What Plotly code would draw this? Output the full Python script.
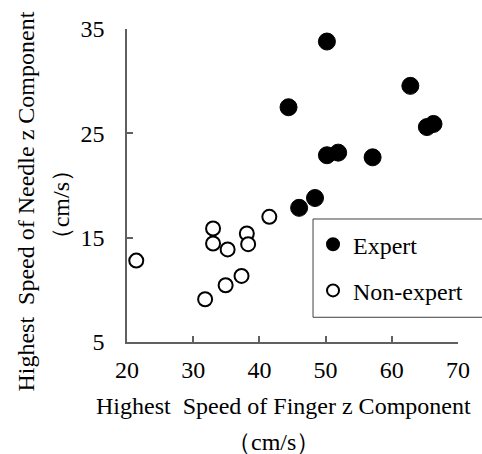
import plotly.graph_objects as go

expert_x = [50.2, 44.4, 62.8, 65.3, 66.3, 50.2, 51.9, 57.1, 46.0, 48.4]
expert_y = [33.8, 27.5, 29.55, 25.6, 25.9, 22.9, 23.15, 22.7, 17.86, 18.8]
nonexpert_x = [21.4, 31.8, 34.9, 37.3, 33.0, 33.0, 35.2, 38.1, 38.3, 41.5]
nonexpert_y = [12.8, 9.1, 10.44, 11.33, 15.88, 14.44, 13.87, 15.4, 14.38, 17.0]

x_ticks = [20, 30, 40, 50, 60, 70]
y_ticks = [5, 15, 25, 35]

FONT = "Liberation Serif"
FS = 24
AX = "#606060"

fig = go.Figure()
fig.add_trace(go.Scatter(
    x=expert_x, y=expert_y, mode="markers", name="Expert", legendgroup="a",
    marker=dict(size=17, color="black", line=dict(color="black", width=1)),
))
fig.add_trace(go.Scatter(
    x=nonexpert_x, y=nonexpert_y, mode="markers", name="Non-expert", legendgroup="b",
    marker=dict(size=14, color="white", line=dict(color="black", width=2)),
))

fig.update_layout(
    width=482, height=454,
    margin=dict(l=127, r=20, t=29, b=112),
    paper_bgcolor="white", plot_bgcolor="white",
    font=dict(family=FONT, size=FS, color="black"),
    showlegend=True,
    legend=dict(
        x=0.562, y=0.383, xanchor="left", yanchor="top",
        borderwidth=0, bgcolor="rgba(0,0,0,0)",
        font=dict(family=FONT, size=FS, color="black"),
        itemsizing="constant", traceorder="grouped", tracegroupgap=12,
    ),
    shapes=[
        dict(type="rect", xref="paper", yref="paper", x0=0.562, x1=1.1, y0=0.079, y1=0.393,
             line=dict(color="#404040", width=1), fillcolor="white", layer="below"),
    ],
    xaxis=dict(
        range=[20, 70], tickvals=x_ticks, ticktext=[str(v) for v in x_ticks],
        showgrid=False, zeroline=False, showline=True, linecolor=AX, linewidth=1.5,
        ticks="inside", ticklen=6, tickcolor=AX, tickwidth=1.5,
        tickfont=dict(family=FONT, size=FS), ticklabelstandoff=5,
    ),
    yaxis=dict(
        range=[5, 35], tickvals=y_ticks, ticktext=[str(v) for v in y_ticks],
        showgrid=False, zeroline=False, showline=True, linecolor=AX, linewidth=1.5,
        ticks="inside", ticklen=6, tickcolor=AX, tickwidth=1.5,
        tickfont=dict(family=FONT, size=FS), ticklabelstandoff=16,
    ),
    annotations=[
        dict(text="Highest&nbsp;&nbsp;Speed of Finger z Component", xref="paper", yref="paper",
             x=0.4716, y=-0.206, xanchor="center", yanchor="middle", showarrow=False,
             font=dict(family=FONT, size=FS)),
        dict(text="（cm/s）", xref="paper", yref="paper",
             x=0.443, y=-0.32, xanchor="center", yanchor="middle", showarrow=False,
             font=dict(family=FONT, size=FS)),
        dict(text="Highest&nbsp;&nbsp;Speed of Needle z Component", xref="paper", yref="paper",
             x=-0.3036, y=0.447, xanchor="center", yanchor="middle", showarrow=False,
             textangle=-90, font=dict(family=FONT, size=FS)),
        dict(text="（cm/s）", xref="paper", yref="paper",
             x=-0.199, y=0.437, xanchor="center", yanchor="middle", showarrow=False,
             textangle=-90, font=dict(family=FONT, size=FS)),
    ],
)

fig.write_html("out.html")
